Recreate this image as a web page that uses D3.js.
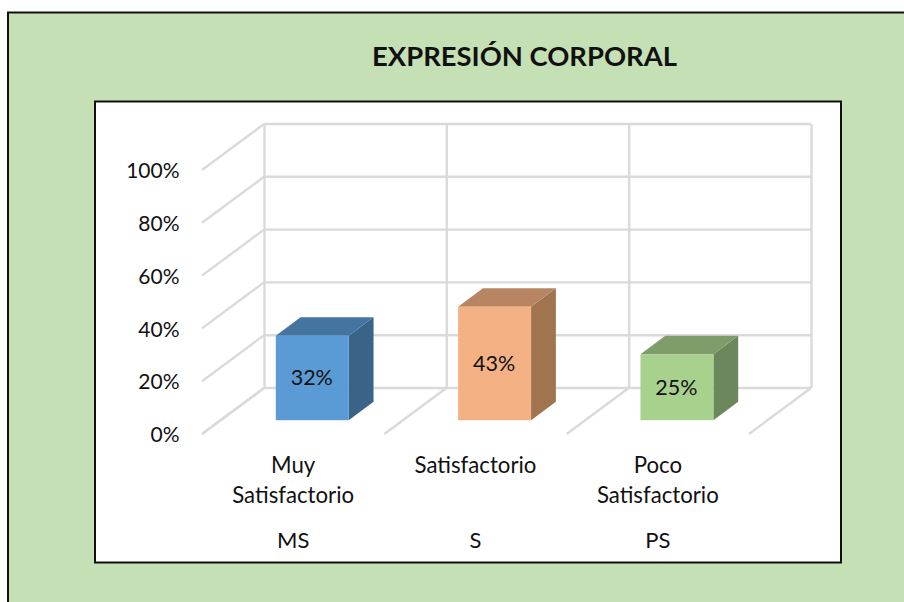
<!DOCTYPE html>
<html><head><meta charset="utf-8">
<script src="https://cdnjs.cloudflare.com/ajax/libs/d3/7.8.5/d3.min.js"></script>
<style>html,body{margin:0;padding:0;background:#fff}svg{display:block}text{font-family:Lato,"Open Sans",sans-serif;fill:#111}</style>
</head><body><svg id="c" width="904" height="602"></svg>
<script>
const title = "EXPRESIÓN CORPORAL";
const categories = ["Muy Satisfactorio", "Satisfactorio", "Poco Satisfactorio"];
const categoryLines = [["Muy", "Satisfactorio"], ["Satisfactorio"], ["Poco", "Satisfactorio"]];
const codes = ["MS", "S", "PS"];
const values = [32, 43, 25];
const faceColors = ["#5B9BD5", "#F4B183", "#A9D18E"];
const topColors = ["#4475A0", "#B88562", "#7F9D6B"];
const sideColors = ["#3A6388", "#A0744F", "#6C875B"];
const yTicks = [0, 20, 40, 60, 80, 100];

const svg = d3.select("#c");
svg.append("rect").attr("x", 8).attr("y", 12.5).attr("width", 910).attr("height", 610)
  .attr("fill", "#C5E0B4").attr("stroke", "#111").attr("stroke-width", 2);
svg.append("rect").attr("x", 95).attr("y", 101.5).attr("width", 746).attr("height", 461)
  .attr("fill", "#fff").attr("stroke", "#111").attr("stroke-width", 2);
svg.append("text").attr("x", 524.5).attr("y", 65.5).attr("text-anchor", "middle")
  .attr("font-size", 27.4).attr("font-weight", 700).attr("fill", "#111").text(title);

const depthX = 62, depthY = -46;
const y = d3.scaleLinear().domain([0, 100]).range([434, 170]);
const x = d3.scaleBand().domain(categories).range([202, 749]);
const g = svg.append("g");
const grid = "#DADADA";
function gl(x1, y1, x2, y2) {
  g.append("line").attr("x1", x1).attr("y1", y1).attr("x2", x2).attr("y2", y2)
    .attr("stroke", grid).attr("stroke-width", 2.4);
}
yTicks.forEach(t => {
  gl(x.range()[0], y(t), x.range()[0] + depthX, y(t) + depthY);
  gl(x.range()[0] + depthX, y(t) + depthY, x.range()[1] + depthX, y(t) + depthY);
});
const edges = categories.map(c => x(c)).concat([x.range()[1]]);
edges.forEach(e => {
  gl(e + depthX + 0.5, y(100) + depthY, e + depthX + 0.5, y(0) + depthY);
  gl(e, y(0), e + depthX, y(0) + depthY);
});

const barW = x.step() * 0.4;
const gap = 0.3, bd = 0.4;
categories.forEach((c, i) => {
  const fx = x(c) + x.step() / 2 - barW / 2 + depthX * gap + 0.5;
  const w = barW, bot = y(0) + depthY * gap, top = y(values[i]) + depthY * gap;
  const dx = depthX * bd, dy = depthY * bd;
  const b = svg.append("g");
  b.append("path").attr("fill", sideColors[i])
    .attr("d", d3.line()([[fx + w, bot], [fx + w + dx, bot + dy], [fx + w + dx, top + dy], [fx + w, top]]) + "Z");
  b.append("path").attr("fill", topColors[i])
    .attr("d", d3.line()([[fx, top], [fx + dx, top + dy], [fx + w + dx, top + dy], [fx + w, top]]) + "Z");
  b.append("rect").attr("x", fx).attr("y", top).attr("width", w).attr("height", bot - top).attr("fill", faceColors[i]);
  b.append("text").attr("x", fx + w / 2 - 0.5).attr("y", (top + bot) / 2 + 7.5).attr("text-anchor", "middle")
    .attr("font-size", 21.5).text(values[i] + "%");
});

const yAxis = d3.axisLeft(y).tickValues(yTicks).tickSize(0).tickPadding(0).tickFormat(d => d + "%");
const ax = svg.append("g").attr("transform", "translate(179.5,1)").call(yAxis);
ax.select(".domain").remove();
ax.selectAll("text").attr("font-size", 21).attr("font-family", "Lato").attr("fill", "#111");

categories.forEach((c, i) => {
  const cx = x(c) + x.step() / 2;
  categoryLines[i].forEach((l, k) => {
    svg.append("text").attr("x", cx).attr("y", 473 + k * 30).attr("text-anchor", "middle").attr("font-size", 22.2).text(l);
  });
  svg.append("text").attr("x", cx).attr("y", 548).attr("text-anchor", "middle").attr("font-size", 22).text(codes[i]);
});
</script></body></html>
